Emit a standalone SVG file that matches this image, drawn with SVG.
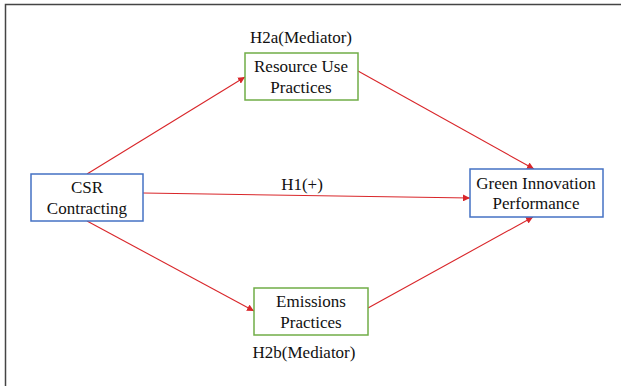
<svg xmlns="http://www.w3.org/2000/svg" width="621" height="386" viewBox="0 0 621 386">
<style>
.txt{font-family:"Liberation Serif","Times New Roman","DejaVu Serif",serif;font-size:17px;fill:#111;text-anchor:middle}
.blue{fill:#fff;stroke:#4472c4;stroke-width:1.5}
.green{fill:#fff;stroke:#70ad47;stroke-width:1.5}
.conn{stroke:#d9262a;stroke-width:1.1;fill:none;marker-end:url(#ah)}
</style>
<defs>
<marker id="ah" viewBox="0 0 10 10" refX="10" refY="5" markerWidth="7" markerHeight="7" markerUnits="userSpaceOnUse" orient="auto">
<path d="M0,0 L10,5 L0,10 z" fill="#d9262a"/>
</marker>
</defs>
<rect width="621" height="386" fill="#fff"/>
<path d="M5.5,386 V4.5 H621" fill="none" stroke="#444" stroke-width="1.5"/>
<g id="connectors">
<line class="conn" x1="87" y1="174" x2="245" y2="77"/>
<line class="conn" x1="358" y1="71" x2="534" y2="169"/>
<line class="conn" x1="143" y1="193" x2="470" y2="198"/>
<line class="conn" x1="87" y1="221" x2="254" y2="311"/>
<line class="conn" x1="368" y1="308" x2="533" y2="217"/>
<text class="txt" x="302" y="190">H1(+)</text>
</g>
<g id="csr">
<rect class="blue" x="31" y="174" width="112" height="47"/>
<text class="txt" x="87" y="193">CSR</text>
<text class="txt" x="87" y="214">Contracting</text>
</g>
<g id="resource">
<text class="txt" x="301" y="43">H2a(Mediator)</text>
<rect class="green" x="245" y="53" width="113" height="47"/>
<text class="txt" x="301" y="72">Resource Use</text>
<text class="txt" x="301" y="93">Practices</text>
</g>
<g id="green">
<rect class="blue" x="470" y="169" width="133" height="48"/>
<text class="txt" x="536" y="189">Green Innovation</text>
<text class="txt" x="536" y="209">Performance</text>
</g>
<g id="emissions">
<rect class="green" x="254" y="288" width="114" height="47"/>
<text class="txt" x="311" y="307">Emissions</text>
<text class="txt" x="311" y="328">Practices</text>
<text class="txt" x="304" y="358">H2b(Mediator)</text>
</g>
</svg>
